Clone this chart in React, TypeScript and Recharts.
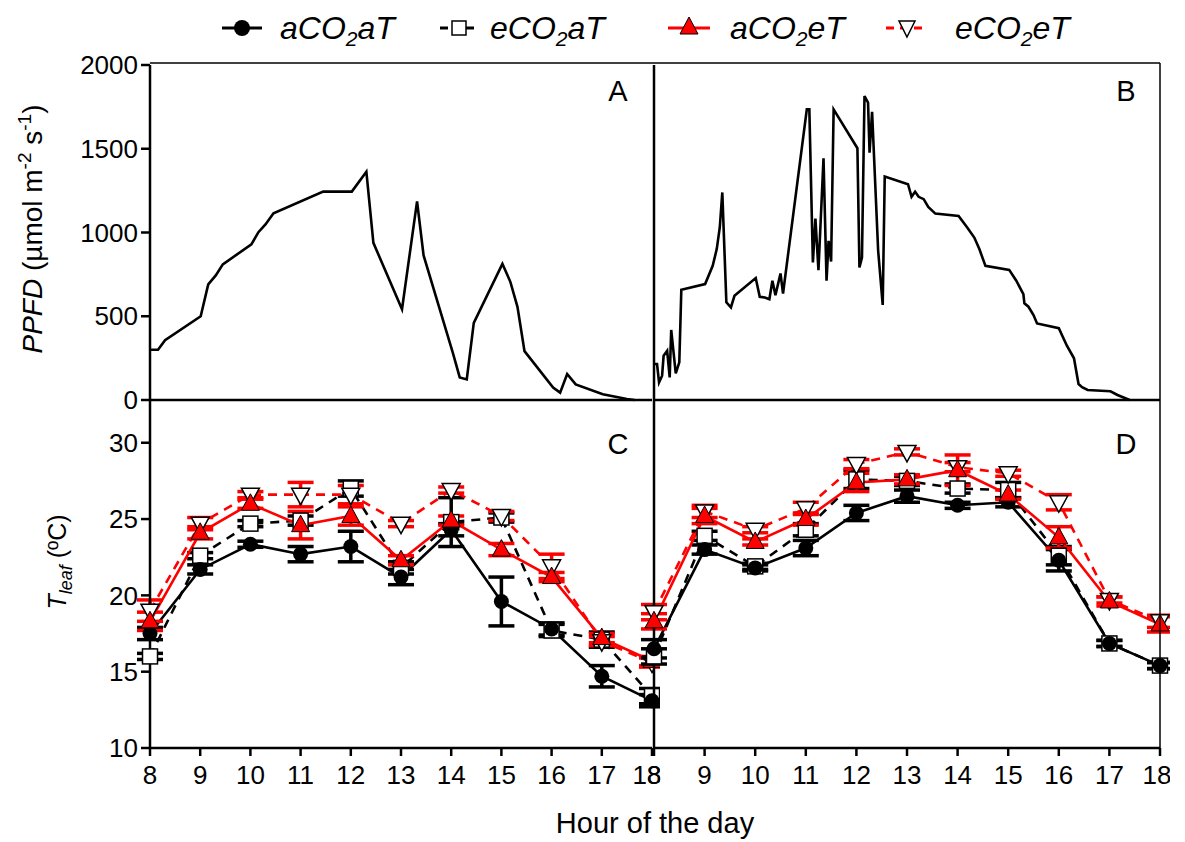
import React from 'react';
import { ComposedChart, Line, XAxis, YAxis, ErrorBar } from 'recharts';

const FONT = '"Liberation Sans", Arial, Helvetica, sans-serif';

// Panel A – PPFD (µmol m-2 s-1)
const ppfdAHours = [8.0, 8.16, 8.3, 9.01, 9.16, 9.31, 9.45, 10.02, 10.16, 10.3, 10.46, 11.45, 12.02, 12.31, 12.45, 13.02, 13.32, 13.45, 14.03, 14.17, 14.31, 14.45, 15.02, 15.18, 15.32, 15.46, 16.03, 16.17, 16.31, 16.48, 17.02, 17.5, 17.65];
const ppfdAValues = [300, 300, 357, 500, 690, 744, 810, 929, 1002, 1048, 1115, 1244, 1244, 1363, 938, 542, 1186, 863, 285, 135, 123, 460, 813, 704, 556, 292, 75, 44, 155, 93, 34, 6, 0];

// Panel B – PPFD
const ppfdBHours = [8.0, 8.06, 8.1, 8.16, 8.19, 8.26, 8.31, 8.34, 8.43, 8.5, 8.54, 9.01, 9.16, 9.24, 9.3, 9.35, 9.43, 9.52, 9.59, 10.01, 10.09, 10.19, 10.28, 10.34, 10.4, 10.5, 10.55, 11.02, 11.07, 11.14, 11.19, 11.25, 11.35, 11.41, 11.45, 11.5, 11.55, 12.02, 12.06, 12.11, 12.16, 12.23, 12.26, 12.31, 12.43, 12.52, 12.56, 13.02, 13.09, 13.16, 13.23, 13.33, 13.42, 13.56, 14.02, 14.19, 14.33, 14.43, 14.55, 15.02, 15.16, 15.3, 15.32, 15.4, 15.5, 15.57, 16.0, 16.16, 16.3, 16.39, 16.46, 16.57, 17.02, 17.16, 17.4];
const ppfdBValues = [215, 215, 105, 145, 264, 294, 135, 418, 159, 225, 658, 692, 801, 901, 1030, 1239, 583, 553, 622, 728, 616, 612, 602, 712, 626, 755, 636, 1735, 1735, 821, 1083, 775, 1443, 712, 950, 827, 1735, 1503, 791, 851, 1815, 1775, 1477, 1721, 891, 568, 1334, 1288, 1213, 1243, 1213, 1199, 1153, 1113, 1099, 1030, 970, 901, 801, 777, 712, 632, 577, 557, 507, 457, 429, 324, 249, 95, 76, 60, 52, 30, 0];

// Panels C and D – Tleaf (ºC)
const hours = [8, 9, 10, 11, 12, 13, 14, 15, 16, 17, 18];
const xTicksTop = [8, 10, 12, 14, 16, 18];
const ppfdTicks = [0, 500, 1000, 1500, 2000];
const tleafTicks = [10, 15, 20, 25, 30];

const cACO2aT = [17.5, 21.7, 23.35, 22.7, 23.2, 21.2, 24.3, 19.6, 17.8, 14.7, 13.1];
const cACO2aTErr = [0.4, 0.3, 0.2, 0.5, 1.0, 0.5, 0.4, 1.6, 0.4, 0.7, 0.4];
const cECO2aT = [16.0, 22.6, 24.7, 24.9, 27.0, 21.8, 24.8, 25.1, 17.7, 17.1, 13.4];
const cECO2aTErr = [0.2, 0.2, 0.2, 0.3, 0.5, 0.4, 1.6, 0.3, 0.4, 0.5, 0.5];
const cACO2eT = [18.3, 24.1, 26.0, 24.6, 25.2, 22.3, 24.9, 23.0, 21.2, 17.2, 15.7];
const cACO2eTErr = [0.6, 0.4, 0.3, 0.9, 0.6, 0.3, 0.3, 0.4, 0.3, 0.3, 0.3];
const cECO2eT = [19.0, 24.7, 26.6, 26.6, 26.6, 24.7, 26.9, 25.2, 21.9, 17.0, 15.6];
const cECO2eTErr = [0.7, 0.4, 0.2, 0.8, 0.6, 0.2, 0.2, 0.3, 0.8, 0.3, 0.3];

const dACO2aT = [16.5, 23.0, 21.8, 23.1, 25.4, 26.5, 25.9, 26.1, 22.3, 16.85, 15.4];
const dACO2aTErr = [0.6, 0.3, 0.2, 0.5, 0.5, 0.4, 0.2, 0.3, 0.7, 0.2, 0.2];
const dECO2aT = [16.0, 23.9, 21.9, 24.3, 27.6, 27.5, 27.0, 26.9, 22.6, 16.85, 15.4];
const dECO2aTErr = [0.5, 0.3, 0.2, 0.4, 0.6, 0.3, 0.3, 0.5, 0.6, 0.2, 0.2];
const dACO2eT = [18.3, 25.2, 23.5, 25.0, 27.4, 27.6, 28.2, 26.6, 23.8, 19.6, 18.1];
const dACO2eTErr = [0.5, 0.5, 0.2, 0.4, 0.6, 0.3, 1.0, 0.3, 0.7, 0.3, 0.5];
const dECO2eT = [18.9, 25.5, 24.3, 25.7, 28.6, 29.4, 28.4, 28.0, 26.1, 19.7, 18.3];
const dECO2eTErr = [0.5, 0.4, 0.2, 0.4, 0.3, 0.2, 0.3, 0.2, 0.5, 0.2, 0.4];

const ppfdA = ppfdAHours.map((h, i) => ({ h, v: ppfdAValues[i] }));
const ppfdB = ppfdBHours.map((h, i) => ({ h, v: ppfdBValues[i] }));

const buildT = (aa: number[], aaE: number[], ea: number[], eaE: number[], ae: number[], aeE: number[], ee: number[], eeE: number[]) =>
  hours.map((h, i) => ({ h, aa: aa[i], aaE: aaE[i], ea: ea[i], eaE: eaE[i], ae: ae[i], aeE: aeE[i], ee: ee[i], eeE: eeE[i] }));

const tleafC = buildT(cACO2aT, cACO2aTErr, cECO2aT, cECO2aTErr, cACO2eT, cACO2eTErr, cECO2eT, cECO2eTErr);
const tleafD = buildT(dACO2aT, dACO2aTErr, dECO2aT, dECO2aTErr, dACO2eT, dACO2eTErr, dECO2eT, dECO2eTErr);

const RED = '#ff0000';
const AX = 2.5;

const CircleDot = (p: any) =>
  p.cx == null ? <g key={p.index} /> : <circle key={p.index} cx={p.cx} cy={p.cy} r={7.5} fill="#000" />;
const SquareDot = (p: any) =>
  p.cx == null ? <g key={p.index} /> : (
    <rect key={p.index} x={p.cx - 7.5} y={p.cy - 7.5} width={15} height={15} fill="#fff" stroke="#000" strokeWidth={1.5} />
  );
const TriUpDot = (p: any) =>
  p.cx == null ? <g key={p.index} /> : (
    <path key={p.index} d={`M${p.cx},${p.cy - 10} L${p.cx + 9},${p.cy + 6.5} L${p.cx - 9},${p.cy + 6.5} Z`} fill={RED} stroke="#000" strokeWidth={1} />
  );
const TriDownDot = (p: any) =>
  p.cx == null ? <g key={p.index} /> : (
    <path key={p.index} d={`M${p.cx},${p.cy + 10} L${p.cx + 9},${p.cy - 6.5} L${p.cx - 9},${p.cy - 6.5} Z`} fill="#fff" stroke="#000" strokeWidth={1.5} />
  );

const tickStyle = { fill: '#000', fontSize: 26, fontFamily: FONT };

function PPFDPanel({ data, left, showLabels }: { data: any[]; left: number; showLabels: boolean }) {
  const width = showLabels ? 660 : 570;
  return (
    <div style={{ position: 'absolute', left, top: 0 }}>
      <ComposedChart width={width} height={420} data={data} margin={{ top: 65, right: showLabels ? 8 : 10, left: 0, bottom: 0 }}>
        <XAxis type="number" dataKey="h" domain={[8, 18]} ticks={xTicksTop} tick={false} height={20}
          stroke="#000" axisLine={{ strokeWidth: AX }} tickLine={{ strokeWidth: AX }} tickSize={8} />
        <YAxis type="number" domain={[0, 2000]} ticks={ppfdTicks} width={showLabels ? 150 : 54}
          tick={showLabels ? tickStyle : false} stroke="#000" axisLine={{ strokeWidth: AX }}
          tickLine={{ strokeWidth: AX }} tickSize={9} tickMargin={3} />
        <Line type="linear" dataKey="v" stroke="#000" strokeWidth={2.6} dot={false} isAnimationActive={false} />
      </ComposedChart>
    </div>
  );
}

function TleafPanel({ data, left, showLabels }: { data: any[]; left: number; showLabels: boolean }) {
  const width = showLabels ? 660 : 570;
  return (
    <div style={{ position: 'absolute', left, top: 380 }}>
      <ComposedChart width={width} height={420} data={data} margin={{ top: 20, right: showLabels ? 8 : 10, left: 0, bottom: 0 }}>
        <XAxis type="number" dataKey="h" domain={[8, 18]} ticks={hours} height={52} tick={tickStyle}
          stroke="#000" axisLine={{ strokeWidth: AX }} tickLine={{ strokeWidth: AX }} tickSize={8} tickMargin={10} />
        <YAxis type="number" domain={[10, 32.8]} ticks={tleafTicks} width={showLabels ? 150 : 54}
          tick={showLabels ? tickStyle : false} stroke="#000" axisLine={{ strokeWidth: AX }}
          tickLine={{ strokeWidth: AX }} tickSize={9} tickMargin={3} />
        <Line type="linear" dataKey="ea" stroke="#000" strokeWidth={2.6} strokeDasharray="9 7" dot={SquareDot} isAnimationActive={false}>
          <ErrorBar dataKey="eaE" width={13} strokeWidth={3.5} stroke="#000" direction="y" />
        </Line>
        <Line type="linear" dataKey="aa" stroke="#000" strokeWidth={2.6} dot={CircleDot} isAnimationActive={false}>
          <ErrorBar dataKey="aaE" width={13} strokeWidth={3.5} stroke="#000" direction="y" />
        </Line>
        <Line type="linear" dataKey="ee" stroke={RED} strokeWidth={2.6} strokeDasharray="9 7" dot={TriDownDot} isAnimationActive={false}>
          <ErrorBar dataKey="eeE" width={13} strokeWidth={3.5} stroke={RED} direction="y" />
        </Line>
        <Line type="linear" dataKey="ae" stroke={RED} strokeWidth={2.6} dot={TriUpDot} isAnimationActive={false}>
          <ErrorBar dataKey="aeE" width={13} strokeWidth={3.5} stroke={RED} direction="y" />
        </Line>
      </ComposedChart>
    </div>
  );
}

function LegendText({ x, pre, post }: { x: number; pre: string; post: string }) {
  return (
    <text x={x} y={39} fontSize={32} fontStyle="italic" fontFamily={FONT} fill="#000">
      {pre}
      <tspan fontSize={21} dy={7}>2</tspan>
      <tspan dy={-7}>{post}</tspan>
    </text>
  );
}

function Overlay() {
  return (
    <svg width={1185} height={842} style={{ position: 'absolute', left: 0, top: 0, pointerEvents: 'none' }}>
      {/* frame */}
      <line x1={150} y1={63} x2={1160} y2={63} stroke="#000" strokeWidth={1.5} />
      <line x1={1160} y1={63} x2={1160} y2={748} stroke="#000" strokeWidth={1.5} />

      {/* legend */}
      <line x1={222} y1={28} x2={262} y2={28} stroke="#000" strokeWidth={3} />
      <circle cx={242} cy={28} r={8} fill="#000" />
      <LegendText x={280} pre="aCO" post="aT" />

      <line x1={440} y1={28} x2={478} y2={28} stroke="#000" strokeWidth={3} strokeDasharray="8 5" />
      <rect x={452} y={21} width={14} height={14} fill="#fff" stroke="#000" strokeWidth={1.5} />
      <LegendText x={490} pre="eCO" post="aT" />

      <line x1={668} y1={28} x2={710} y2={28} stroke={RED} strokeWidth={3} />
      <path d="M689,17 L698,34 L680,34 Z" fill={RED} stroke="#000" strokeWidth={1} />
      <LegendText x={730} pre="aCO" post="eT" />

      <line x1={886} y1={28} x2={928} y2={28} stroke={RED} strokeWidth={3} strokeDasharray="8 6" />
      <path d="M907,37 L915,21 L899,21 Z" fill="#fff" stroke="#000" strokeWidth={1.5} />
      <LegendText x={955} pre="eCO" post="eT" />

      {/* panel letters */}
      <text x={618} y={101} fontSize={29} fontFamily={FONT} textAnchor="middle" fill="#000">A</text>
      <text x={1126} y={101} fontSize={29} fontFamily={FONT} textAnchor="middle" fill="#000">B</text>
      <text x={618} y={454} fontSize={29} fontFamily={FONT} textAnchor="middle" fill="#000">C</text>
      <text x={1126} y={454} fontSize={29} fontFamily={FONT} textAnchor="middle" fill="#000">D</text>

      {/* axis titles */}
      <text transform="translate(42,229) rotate(-90)" textAnchor="middle" fontSize={28} fontFamily={FONT} fill="#000">
        <tspan fontStyle="italic">PPFD</tspan>
        <tspan> (µmol m</tspan>
        <tspan fontSize={19} dy={-11}>-2</tspan>
        <tspan dy={11}> s</tspan>
        <tspan fontSize={19} dy={-11}>-1</tspan>
        <tspan dy={11}>)</tspan>
      </text>
      <text transform="translate(66,562) rotate(-90)" textAnchor="middle" fontSize={25} fontFamily={FONT} fill="#000">
        <tspan fontStyle="italic">T</tspan>
        <tspan fontStyle="italic" fontSize={18} dy={6}>leaf</tspan>
        <tspan dy={-6}> (ºC)</tspan>
      </text>
      <text x={655} y={833} textAnchor="middle" fontSize={29} fontFamily={FONT} fill="#000">Hour of the day</text>
    </svg>
  );
}

export default function App() {
  return (
    <div style={{ position: 'absolute', left: 0, top: 0, width: 1185, height: 842, background: '#fff', fontFamily: FONT }}>
      <PPFDPanel data={ppfdA} left={0} showLabels={true} />
      <PPFDPanel data={ppfdB} left={600} showLabels={false} />
      <TleafPanel data={tleafC} left={0} showLabels={true} />
      <TleafPanel data={tleafD} left={600} showLabels={false} />
      <Overlay />
    </div>
  );
}
